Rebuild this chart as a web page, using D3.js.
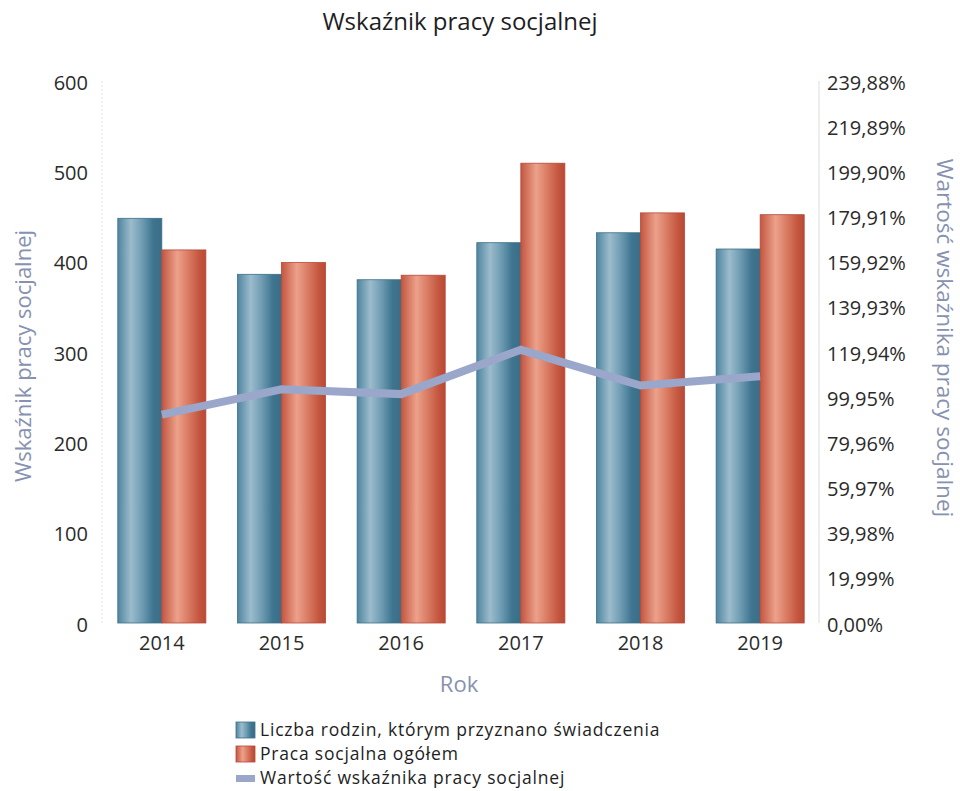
<!DOCTYPE html>
<html><head><meta charset="utf-8">
<script src="https://cdn.jsdelivr.net/npm/d3@7"></script>
<style>body{margin:0;background:#fff;} svg{display:block;font-family:"Open Sans",sans-serif;}</style>
</head><body>
<script>
const years = ["2014","2015","2016","2017","2018","2019"];
const families = [448, 386, 380, 421, 432, 414];
const socialWork = [413, 399, 385, 509, 454, 452];
const indicator = [92.2, 103.4, 101.3, 120.9, 105.1, 109.2];
const leftTicks = [0, 100, 200, 300, 400, 500, 600];
const rightTicks = [0, 19.99, 39.98, 59.97, 79.96, 99.95, 119.94, 139.93, 159.92, 179.91, 199.90, 219.89, 239.88];
const seriesNames = ["Liczba rodzin, którym przyznano świadczenia", "Praca socjalna ogółem", "Wartość wskaźnika pracy socjalnej"];

const W = 960, H = 791;
const svg = d3.select("body").append("svg").attr("width", W).attr("height", H);
const defs = svg.append("defs");
function grad(id, stops){
  const g = defs.append("linearGradient").attr("id", id).attr("x1","0%").attr("x2","100%").attr("y1","0%").attr("y2","0%");
  stops.forEach(s => g.append("stop").attr("offset", s[0]).attr("stop-color", s[1]));
}
grad("gBlue", [["0%","#4f85a0"],["30%","#9cbccc"],["55%","#6f9cb3"],["80%","#3f7590"],["100%","#3a6d88"]]);
grad("gRed", [["0%","#c35640"],["35%","#eca18b"],["60%","#d97b63"],["85%","#c4563f"],["100%","#b84a35"]]);

const x = d3.scaleBand().domain(years).range([102, 820]).paddingInner(0.264).paddingOuter(0.132);
const x1 = d3.scaleBand().domain([0,1]).range([0, x.bandwidth()]);
const yL = d3.scaleLinear().domain([0, 600]).range([623, 81]);
const yR = d3.scaleLinear().domain([0, 239.88]).range([623, 81]);

// faint axis lines
svg.append("line").attr("x1",102).attr("x2",102).attr("y1",yL(600)).attr("y2",yL(0)).attr("stroke","#e4e4e4").attr("stroke-dasharray","2,2");
svg.append("line").attr("x1",819).attr("x2",819).attr("y1",yL(600)).attr("y2",yL(0)).attr("stroke","#dcdcdc");

// bars
const g = svg.append("g");
years.forEach((yr, i) => {
  g.append("rect").attr("x", x(yr) + x1(0)).attr("width", x1.bandwidth()).attr("y", yL(families[i])).attr("height", yL(0) - yL(families[i]))
    .attr("fill","url(#gBlue)").attr("stroke","#3c6f88").attr("stroke-width",0.8);
  g.append("rect").attr("x", x(yr) + x1(1)).attr("width", x1.bandwidth()).attr("y", yL(socialWork[i])).attr("height", yL(0) - yL(socialWork[i]))
    .attr("fill","url(#gRed)").attr("stroke","#b8483a").attr("stroke-width",0.8);
});

// line
const line = d3.line().x((d,i) => x(years[i]) + x.bandwidth()/2).y(d => yR(d));
svg.append("path").datum(indicator).attr("d", line).attr("fill","none").attr("stroke","#9ba6cb").attr("stroke-width",8).attr("stroke-linejoin","miter");

// left axis
const axL = svg.append("g").attr("transform","translate(88,0)")
  .call(d3.axisLeft(yL).tickValues(leftTicks).tickSize(0).tickPadding(0));
axL.select(".domain").remove();
axL.selectAll("text").attr("font-size",20).attr("fill","#2b2b2b").attr("font-family","Open Sans").attr("dy","0.4em");

// right axis
const axR = svg.append("g").attr("transform","translate(827,0)")
  .call(d3.axisRight(yR).tickValues(rightTicks).tickSize(0).tickPadding(0).tickFormat(d => d3.format(".2f")(d).replace(".", ",") + "%"));
axR.select(".domain").remove();
axR.selectAll("text").attr("font-size",20).attr("fill","#2b2b2b").attr("font-family","Open Sans").attr("dy","0.4em");

// x axis
const axX = svg.append("g").attr("transform","translate(0,631)").call(d3.axisBottom(x).tickSize(0).tickPadding(0));
axX.select(".domain").remove();
axX.selectAll("text").attr("font-size",20).attr("fill","#2b2b2b").attr("font-family","Open Sans").attr("dy","0.95em");

// titles
svg.append("text").attr("x",460).attr("y",30).attr("text-anchor","middle").attr("font-size",24).attr("fill","#1e1e24").text("Wskaźnik pracy socjalnej");
svg.append("text").attr("x",459).attr("y",692).attr("text-anchor","middle").attr("font-size",22).attr("fill","#8791b0").text("Rok");
svg.append("text").attr("transform","translate(31,356) rotate(-90)").attr("text-anchor","middle").attr("font-size",22).attr("fill","#8791b0").text("Wskaźnik pracy socjalnej");
svg.append("text").attr("transform","translate(937,338) rotate(90)").attr("text-anchor","middle").attr("font-size",22.5).attr("fill","#8791b0").text("Wartość wskaźnika pracy socjalnej");

// legend
const lg = svg.append("g").attr("transform","translate(236,0)");
const rows = [730, 754, 778];
lg.append("rect").attr("x",0).attr("y",rows[0]-8).attr("width",19).attr("height",16).attr("fill","url(#gBlue)").attr("stroke","#3c6f88").attr("stroke-width",0.8);
lg.append("rect").attr("x",0).attr("y",rows[1]-8).attr("width",19).attr("height",16).attr("fill","url(#gRed)").attr("stroke","#b8483a").attr("stroke-width",0.8);
lg.append("rect").attr("x",0).attr("y",rows[2]-3).attr("width",19).attr("height",7).attr("fill","#9ba6cb");
seriesNames.forEach((n,i) => {
  lg.append("text").attr("x",24).attr("y",rows[i]).attr("dy","0.35em").attr("font-size",17.5).attr("letter-spacing","0.8px").attr("fill","#1e1e24").text(n);
});
</script>
</body></html>
